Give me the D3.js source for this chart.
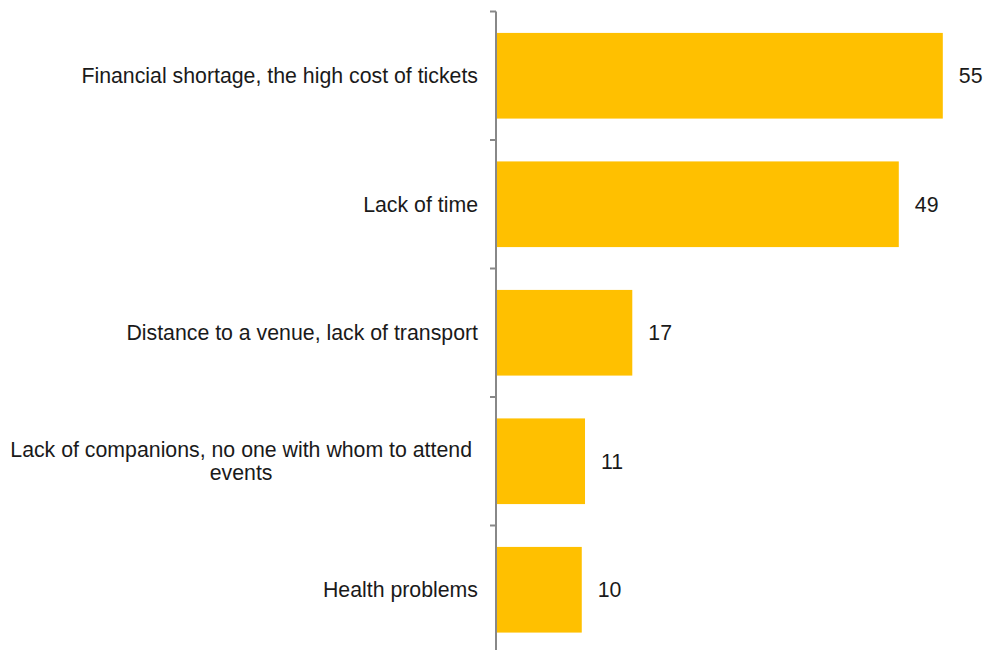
<!DOCTYPE html>
<html>
<head>
<meta charset="utf-8">
<script src="https://cdn.jsdelivr.net/npm/d3@7"></script>
<style>
  body { margin: 0; background: #fff; }
  text { font-family: "Liberation Sans", Arial, sans-serif; fill: #1a1a1a; }
</style>
</head>
<body>
<svg id="chart" width="986" height="650"></svg>
<script>
var categories = [
  ["Financial shortage, the high cost of tickets"],
  ["Lack of time"],
  ["Distance to a venue, lack of transport"],
  ["Lack of companions, no one with whom to attend", "events"],
  ["Health problems"]
];
var values = [54.7, 49.3, 16.6, 10.8, 10.4];

var width = 986, height = 650;
var axisX = 497;
var fontSize = 21.3;

var svg = d3.select("#chart");

var y = d3.scaleBand()
  .domain(d3.range(categories.length))
  .range([11.5, 654])
  .paddingInner(1 / 3)
  .paddingOuter(1 / 6);

var x = d3.scaleLinear()
  .domain([0, 60])
  .range([axisX, width]);

// bars
svg.append("g").selectAll("rect")
  .data(values)
  .join("rect")
  .attr("x", x(0))
  .attr("y", function(d, i) { return y(i); })
  .attr("width", function(d) { return x(d) - x(0); })
  .attr("height", y.bandwidth())
  .attr("fill", "#FFC000");

// value labels
svg.append("g").selectAll("text")
  .data(values)
  .join("text")
  .text(function(d) { return d3.format(".0f")(d); })
  .attr("x", function(d) { return x(d) + 16; })
  .attr("y", function(d, i) { return y(i) + y.bandwidth() / 2; })
  .attr("dy", ".35em")
  .style("font-size", fontSize + "px");

// axis line with ticks on the left
var step = y.step();
var tickYs = d3.range(categories.length + 1).map(function(i) {
  return y.range()[0] + i * step;
});
var axis = svg.append("g")
  .attr("stroke", "#888")
  .attr("stroke-width", 2);

axis.append("line")
  .attr("x1", axisX - 1).attr("x2", axisX - 1)
  .attr("y1", tickYs[0]).attr("y2", height);

axis.selectAll("line.tick")
  .data(tickYs)
  .join("line")
  .attr("class", "tick")
  .attr("x1", axisX - 7).attr("x2", axisX - 1)
  .attr("y1", function(d) { return d; })
  .attr("y2", function(d) { return d; });

// category labels
var labelRight = 478;
var lineH = 23;
var labels = svg.append("g");
categories.forEach(function(lines, i) {
  var cy = y(i) + y.bandwidth() / 2;
  if (lines.length == 1) {
    labels.append("text")
      .text(lines[0])
      .attr("x", labelRight)
      .attr("y", cy)
      .attr("dy", ".35em")
      .attr("text-anchor", "end")
      .style("font-size", fontSize + "px");
  } else {
    var top = cy - (lines.length - 1) * lineH / 2;
    var first = labels.append("text")
      .text(lines[0])
      .attr("x", labelRight - 6)
      .attr("y", top)
      .attr("dy", ".35em")
      .attr("text-anchor", "end")
      .style("font-size", fontSize + "px");
    var center = labelRight - 6 - first.node().getComputedTextLength() / 2;
    for (var k = 1; k < lines.length; k++) {
      labels.append("text")
        .text(lines[k])
        .attr("x", center)
        .attr("y", top + k * lineH)
        .attr("dy", ".35em")
        .attr("text-anchor", "middle")
        .style("font-size", fontSize + "px");
    }
  }
});
</script>
</body>
</html>
